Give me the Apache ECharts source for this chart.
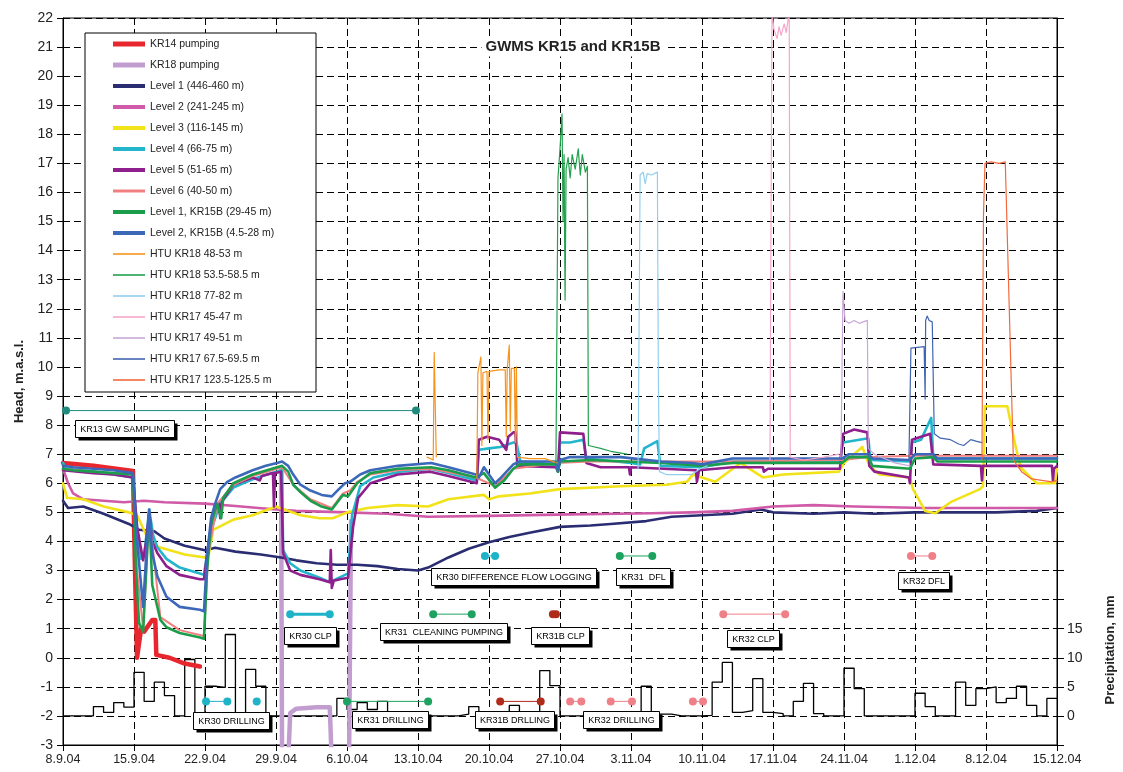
<!DOCTYPE html>
<html><head><meta charset="utf-8">
<script src="https://cdn.jsdelivr.net/npm/echarts@6/dist/echarts.min.js"></script>
<style>html,body{margin:0;padding:0;background:#fff}#c{width:1123px;height:772px}</style>
</head><body><div id="c"></div>
<script>
// ---- x axis: days since 8.9.2004 ----
const xTickLabels = ['8.9.04','15.9.04','22.9.04','29.9.04','6.10.04','13.10.04','20.10.04','27.10.04','3.11.04','10.11.04','17.11.04','24.11.04','1.12.04','8.12.04','15.12.04'];
const precipTickLabels = [0,5,10,15];

// ---- head series [day, m.a.s.l.] ----
const kr14Pumping = [[0,6.7],[3,6.6],[6.9,6.42],[7.1,3.0],[7.3,0.0],[7.7,1.0],[8.0,0.9],[8.8,1.3],[9.1,1.3],[9.2,0.1],[10.5,0.0],[12,-0.2],[13.5,-0.3]];
const kr18Pumping = [[21.5,6.45],[21.6,-3.6],[22.2,-3.6],[22.4,-1.9],[23,-1.75],[25,-1.7],[26.3,-1.7],[26.5,-3.6],[28.2,-3.6],[28.4,4.7]];
const level1 = [[0,5.4],[0.5,5.15],[2,5.2],[4,4.95],[6.5,4.6],[7.5,4.4],[9,4.35],[10,4.1],[12,3.85],[14,3.7],[15,3.78],[17,3.65],[19.5,3.55],[21.5,3.45],[23,3.35],[25,3.25],[27,3.2],[29,3.2],[31,3.15],[33,3.05],[35,3.0],[36,3.1],[38,3.45],[40,3.75],[42,3.97],[44,4.15],[46,4.3],[49,4.5],[52,4.55],[54,4.6],[57.5,4.7],[60,4.85],[63,4.9],[66,4.95],[68.8,5.1],[70,5.0],[74,4.95],[77,5.0],[80,4.95],[84,5.0],[88,5.0],[92,5.0],[96,5.05],[98,5.15]];
const level2 = [[0,6.5],[0.5,6.0],[1,5.65],[2,5.45],[4,5.4],[6,5.35],[8,5.4],[10,5.35],[14,5.3],[17,5.22],[21,5.1],[23,5.05],[28,5.0],[32,4.95],[36,4.85],[42,4.88],[50,4.93],[58,4.97],[62,5.0],[66,5.05],[70,5.2],[74,5.25],[78,5.2],[85,5.15],[92,5.15],[98,5.15]];
const level3 = [[0,6.0],[0.4,5.5],[2,5.45],[4,5.2],[6.5,5.0],[7.3,4.9],[8.5,4.0],[9.5,3.8],[12,3.55],[14,3.45],[14.4,3.6],[14.8,4.4],[16.8,4.75],[18.7,4.9],[21,5.2],[23.4,4.9],[25.3,4.8],[26.6,4.8],[28,5.0],[30,5.15],[33,5.25],[36,5.2],[38,5.45],[41.5,5.6],[42,5.45],[43,5.55],[46,5.65],[49,5.8],[55,5.9],[59.5,5.95],[61.5,6.05],[62.1,6.3],[63,6.2],[64.3,6.05],[66.8,6.7],[69,6.2],[71,6.3],[76.5,6.4],[77,6.7],[78.8,7.25],[79.5,6.6],[80.5,6.3],[83.5,6.2],[83.8,5.8],[85,5.05],[86,4.97],[87.5,5.35],[90.4,5.8],[90.7,5.9],[90.9,8.65],[93.1,8.65],[93.9,7.3],[94.4,6.55],[95.4,6.2],[96,6.0],[97.8,6.0],[98,6.5]];
const level4 = [[0,6.7],[0.3,6.5],[3,6.4],[5,6.3],[6.9,6.2],[7.3,4.5],[7.7,3.4],[8.0,3.5],[8.5,5.1],[8.9,4.2],[9.3,3.8],[10.2,3.4],[11.5,3.1],[13.5,2.9],[13.9,2.85],[14.3,3.8],[14.8,4.6],[15.5,5.3],[16.8,5.85],[18.8,6.15],[20.1,6.3],[21.6,6.45],[21.7,3.7],[22.4,3.25],[23.4,3.0],[25.3,2.75],[26.3,2.6],[26.6,2.65],[27.8,2.85],[28.1,2.9],[28.5,4.9],[29.3,5.9],[30.6,6.2],[33.2,6.4],[36.2,6.5],[38,6.35],[40.8,6.1],[41,7.15],[42,7.2],[43.1,7.25],[44.4,7.4],[44.7,7.4],[45.1,6.75],[48.6,6.65],[48.8,6.4],[49.0,7.4],[50,7.4],[51.3,7.5],[51.6,6.85],[53,6.8],[56,6.7],[56.9,6.65],[57.3,7.2],[58.6,7.45],[58.9,6.6],[63,6.55],[66,6.75],[70,6.75],[76.6,6.75],[76.9,7.4],[79.4,7.55],[79.6,6.8],[83.5,6.75],[83.7,7.4],[84.6,7.5],[85.2,7.95],[85.6,8.25],[85.8,6.85],[98,6.85]];
const level5 = [[0,6.45],[3,6.35],[5,6.3],[6.9,6.2],[7.3,4.5],[7.9,3.35],[8.2,4.0],[8.5,5.0],[8.8,4.0],[9.3,3.6],[10.2,3.15],[11.5,2.85],[13.5,2.7],[13.9,2.7],[14.3,3.8],[14.8,5.0],[15.4,5.3],[15.5,4.8],[15.7,5.4],[16.8,5.95],[18.7,6.2],[19.4,6.1],[19.6,6.25],[20.7,6.35],[20.8,5.2],[20.9,6.35],[21.5,6.4],[21.7,3.6],[22.4,3.0],[23.4,2.85],[25.3,2.7],[26.3,2.6],[26.4,3.7],[26.5,2.4],[26.7,2.65],[27.3,2.7],[28.1,2.75],[28.6,4.5],[29.1,5.5],[30.3,6.0],[33,6.3],[36.2,6.4],[38,6.25],[40.8,6.0],[41,7.5],[41.8,7.6],[43,7.5],[43.7,7.15],[43.9,7.6],[44.4,7.75],[44.6,7.75],[44.8,6.6],[48.6,6.55],[48.8,6.4],[49.0,7.75],[51.3,7.7],[51.6,6.7],[53,6.55],[55.8,6.55],[55.9,6.3],[56.0,6.55],[62.4,6.45],[62.5,6.05],[62.7,6.45],[66,6.55],[69,6.55],[69.1,6.4],[69.5,6.5],[76.6,6.5],[76.9,7.7],[78,7.85],[79.3,7.75],[79.5,6.6],[80,6.4],[83.4,6.2],[83.5,6.0],[83.7,7.5],[85.5,7.7],[85.8,6.65],[90.5,6.6],[90.6,6.1],[90.7,6.6],[97.5,6.6],[97.6,6.1],[97.7,6.5],[98,6.6]];
const level6 = [[0,6.5],[3,6.4],[6.9,6.3],[7.3,3.0],[7.9,1.0],[8.5,4.9],[9.6,1.4],[11.5,0.95],[13.9,0.75],[14.3,3.5],[15.2,5.3],[16.8,5.95],[18.7,6.25],[21.6,6.55],[22.7,5.95],[24.4,5.45],[26.5,5.15],[27.6,5.65],[28.3,5.75],[29,6.05],[30.3,6.3],[33,6.45],[36.3,6.5],[40.7,6.2],[42.6,5.9],[44.4,6.5],[48.6,6.7],[52,6.75],[66,6.75],[76.8,6.8],[79.5,6.9],[84,6.95],[98,6.95]];
const level1B = [[0,6.5],[1,6.45],[3,6.4],[5,6.35],[6.9,6.3],[7.2,3.0],[7.5,1.2],[7.9,0.9],[8.2,3.0],[8.5,5.0],[8.8,2.5],[9.6,1.3],[10.2,1.05],[11.5,0.85],[13.5,0.7],[13.9,0.65],[14.2,3.0],[14.6,4.6],[15.2,5.3],[15.6,4.8],[15.8,5.5],[16.8,6.0],[18.7,6.3],[21.1,6.55],[21.6,6.6],[22.2,6.4],[22.7,5.95],[23.4,5.7],[24.4,5.4],[25.5,5.2],[26.5,5.1],[27.6,5.6],[28.1,5.55],[28.3,5.65],[29,6.0],[30.3,6.35],[33,6.5],[36.3,6.55],[38,6.45],[40.7,6.2],[41.5,6.35],[42.6,5.85],[43.5,6.1],[44.4,6.5],[45,6.65],[48.6,6.65],[48.8,6.4],[49.0,6.75],[52,6.8],[59,6.7],[63,6.6],[66,6.7],[70,6.7],[76.8,6.7],[77.5,6.9],[79.4,6.9],[79.8,6.6],[83.5,6.5],[84,6.85],[85.8,6.9],[86.2,6.75],[98,6.75]];
const level2B = [[0,6.6],[1,6.55],[3,6.5],[5,6.45],[6.9,6.35],[7.3,4.0],[7.9,1.75],[8.2,3.5],[8.5,5.1],[8.8,3.6],[9.3,2.8],[10.2,2.1],[11.5,1.75],[13.5,1.65],[13.9,1.6],[14.2,3.5],[14.6,4.8],[15,5.3],[15.5,5.8],[16.2,6.05],[17,6.2],[18.7,6.45],[20,6.6],[21.1,6.7],[21.6,6.75],[22.2,6.6],[22.7,6.3],[23.4,5.95],[24.4,5.75],[25.5,5.6],[26.5,5.55],[27.2,5.8],[27.8,6.0],[28.3,6.05],[29.3,6.3],[30.3,6.45],[33,6.6],[36.3,6.7],[38,6.55],[40.7,6.3],[41,6.2],[41.5,6.55],[42,6.3],[42.6,6.0],[43.2,6.2],[44.4,6.65],[45,6.75],[48.6,6.75],[48.8,6.45],[49.0,6.8],[50,6.9],[55,6.9],[59,6.75],[62,6.7],[63,6.65],[66,6.85],[70,6.85],[76.8,6.85],[77.5,7.0],[79.4,7.0],[79.8,6.85],[83.5,6.8],[84,7.0],[85.8,7.0],[86.2,6.85],[98,6.85]];
const htuKR18_48 = [[35.9,6.9],[36.5,6.8],[36.6,10.5],[36.8,6.9],[37.0,'-'],[40.8,6.2],[40.9,9.8],[41.2,10.35],[41.3,7.3],[41.4,9.8],[41.8,9.85],[41.9,7.5],[42.0,9.85],[43,9.9],[43.6,9.9],[43.7,7.6],[43.8,9.95],[44.0,10.75],[44.1,7.8],[44.2,9.95],[44.5,9.95],[44.6,7.4],[44.7,10.0],[44.8,6.9],[46,6.85],[47.5,6.85],[48.7,6.7]];
const htuKR18_53 = [[48.6,6.7],[48.8,16.5],[49.0,17.5],[49.2,18.7],[49.3,15.0],[49.4,17.3],[49.5,12.3],[49.6,16.8],[49.8,17.2],[50,16.5],[50.2,17.3],[50.5,16.8],[50.8,17.5],[51,16.6],[51.2,17.3],[51.5,16.7],[51.7,16.9],[51.8,7.3],[53,7.2],[54,7.1],[55.6,7.0]];
const htuKR18_77 = [[56.7,6.5],[56.9,16.6],[57.2,16.7],[57.4,16.3],[57.6,16.65],[58.0,16.6],[58.6,16.7],[58.7,9.5],[58.8,6.4],[59.5,6.3],[62,6.3],[62.8,6.5],[63.5,6.6]];
const htuKR17_45 = [[69.7,6.8],[69.9,22.2],[70.1,21.6],[70.4,21.3],[70.6,21.7],[70.8,21.4],[71.1,21.8],[71.3,21.5],[71.6,22.2],[71.7,6.9],[73,6.8],[75,6.9],[76.5,7.0]];
const htuKR17_49 = [[76.7,6.9],[76.9,12.6],[77.1,11.6],[77.5,11.5],[78,11.6],[78.5,11.5],[79.3,11.6],[79.4,7.2],[80,7.0],[82,6.7],[83.5,6.6]];
const htuKR17_67 = [[83.4,6.8],[83.6,10.65],[84.9,10.7],[85.0,8.9],[85.05,11.6],[85.2,11.75],[85.4,11.6],[85.7,11.55],[85.9,7.7],[86.5,7.55],[87.5,7.5],[88.3,7.35],[88.8,7.3],[89.5,7.5],[90,7.45],[90.6,7.4]];
const htuKR17_123 = [[90.6,6.8],[90.75,15.2],[90.9,17.0],[91.5,17.05],[92.3,17.0],[92.9,17.05],[93.7,6.8],[94.5,6.4],[95.5,6.15],[96.5,6.1],[97.5,6.05],[98,6.1]];

// ---- daily precipitation, mm (day 0 .. 97) ----
const precipDaily = [0,0,0,1.6,0.6,2.3,1.5,7.5,2.5,5.8,3.5,0,9.7,0,5.1,4.9,14.0,0,8.0,5.1,0,0,0,0,0,0,0,3.0,1.1,2.3,1.1,2.5,0,0,0,0,0,0,0,0.3,1.6,0,0,0.6,1.8,0.6,0.6,7.8,5.2,0,0,0,0,0,0,0,0,5.1,0.3,0.3,0,0,0,0.1,5.8,9.2,0.6,0.9,6.4,0.6,0.4,0,2.5,5.6,0.4,0,0,8.2,4.7,0,0,0,0,0,3.9,1.6,0,0,5.8,1.8,4.7,5.0,2.3,3.0,5.1,1.8,0,3.0];

// ---- activity markers [day, head] ----
const mkKR13Sampling = [[0.3,8.5],[34.8,8.5]];
const mkKR30DFL = [[41.6,3.5],[42.6,3.5]];
const mkKR31DFL = [[54.9,3.5],[58.1,3.5]];
const mkKR32DFL = [[83.6,3.5],[85.7,3.5]];
const mkKR30CLP = [[22.4,1.5],[26.3,1.5]];
const mkKR31CLP = [[36.5,1.5],[40.3,1.5]];
const mkKR31BCLP = [[48.3,1.5],[48.6,1.5]];
const mkKR32CLP = [[65.1,1.5],[71.2,1.5]];
const mkKR30Drill = [[14.1,-1.5],[16.2,-1.5],[17.5,'-'],[19.1,-1.5]];
const mkKR31Drill = [[28.0,-1.5],[36.0,-1.5]];
const mkKR31BDrill = [[43.1,-1.5],[47.1,-1.5]];
const mkKR32Drill = [[50.0,-1.5],[51.1,-1.5],[52,'-'],[54.0,-1.5],[56.1,-1.5],[58,'-'],[62.1,-1.5],[63.1,-1.5]];
// labels [day, head, text]
const activityLabels = [
  [6.1,7.87,'KR13 GW SAMPLING'],
  [44.4,2.78,'KR30 DIFFERENCE FLOW LOGGING'],
  [57.2,2.78,'KR31  DFL'],
  [84.8,2.67,'KR32 DFL'],
  [24.4,0.78,'KR30 CLP'],
  [37.5,0.92,'KR31  CLEANING PUMPING'],
  [49.0,0.78,'KR31B CLP'],
  [68.0,0.65,'KR32 CLP'],
  [16.6,-2.17,'KR30 DRILLING'],
  [32.2,-2.14,'KR31 DRILLING'],
  [44.5,-2.14,'KR31B DRLLING'],
  [55.0,-2.14,'KR32 DRILLING']
];

const FONT = 'Arial, "Liberation Sans", sans-serif';
const LABEL_FONT = '9px Arial, "Liberation Sans", sans-serif';
const headSeries = [
  ['KR14 pumping', kr14Pumping, '#e8262d', 4.5, 'pump'],
  ['KR18 pumping', kr18Pumping, '#c29dd0', 4.5, 'pump'],
  ['Level 1 (446-460 m)', level1, '#2b2d72', 2.6, 'thick'],
  ['Level 2 (241-245 m)', level2, '#d05aa8', 2.6, 'thick'],
  ['Level 3 (116-145 m)', level3, '#f2e21a', 2.6, 'thick'],
  ['Level 4 (66-75 m)', level4, '#22b5cc', 2.6, 'thick'],
  ['Level 5 (51-65 m)', level5, '#8e1f8c', 2.6, 'thick'],
  ['Level 6 (40-50 m)', level6, '#f08080', 2.0, 'mid'],
  ['Level 1, KR15B (29-45 m)', level1B, '#1b9e4b', 2.6, 'thick'],
  ['Level 2, KR15B (4.5-28 m)', level2B, '#3b68b8', 2.6, 'thick'],
  ['HTU KR18 48-53 m', htuKR18_48, '#f7941e', 1.2, 'thin'],
  ['HTU KR18 53.5-58.5 m', htuKR18_53, '#23a04e', 1.2, 'thin'],
  ['HTU KR18 77-82 m', htuKR18_77, '#92cfee', 1.2, 'thin'],
  ['HTU KR17 45-47 m', htuKR17_45, '#f5a6c9', 1.2, 'thin'],
  ['HTU KR17 49-51 m', htuKR17_49, '#c8a8d8', 1.2, 'thin'],
  ['HTU KR17 67.5-69.5 m', htuKR17_67, '#4065b0', 1.2, 'thin'],
  ['HTU KR17 123.5-125.5 m', htuKR17_123, '#f26a3c', 1.2, 'thin']
];
const icons = {
  pump: 'path://M0,0h32v5h-32z',
  thick: 'path://M0,0h32v4h-32z',
  mid: 'path://M0,0h32v3h-32z',
  thin: 'path://M0,0h32v1.6h-32z'
};

const markerSeries = [
  [mkKR13Sampling,'#1e8b7d',1],[mkKR30DFL,'#1fb3c8',1],[mkKR31DFL,'#1ea260',1],[mkKR32DFL,'#f08088',1],
  [mkKR30CLP,'#1fb3c8',3],[mkKR31CLP,'#1ea260',1],[mkKR31BCLP,'#b02a1a',1],[mkKR32CLP,'#f08088',1],
  [mkKR30Drill,'#1fb3c8',1],[mkKR31Drill,'#1ea260',1],[mkKR31BDrill,'#b02a1a',1],[mkKR32Drill,'#f08088',1]
];

const measureCtx = document.createElement('canvas').getContext('2d');
measureCtx.font = LABEL_FONT;

const series = [];
// precipitation (step line on right axis)
const precipData = precipDaily.map((v,i)=>[i,v]);
precipData.push([precipDaily.length, precipDaily[precipDaily.length-1]]);
series.push({type:'line', name:'Precipitation', yAxisIndex:1, step:'end', data:precipData,
  showSymbol:false, symbol:'none', lineStyle:{color:'#000', width:1.3}, itemStyle:{color:'#000'}, z:2});

headSeries.forEach(([name,data,color,w])=>{
  series.push({type:'line', name, data, showSymbol:false, symbol:'none', connectNulls:false,
    lineStyle:{color, width:w, cap:'round', join:'round'}, itemStyle:{color}, z:3});
});
markerSeries.forEach(([data,color,w])=>{
  series.push({type:'line', data, symbol:'circle', symbolSize:8, showSymbol:true, showAllSymbol:true,
    connectNulls:false, lineStyle:{color, width:w}, itemStyle:{color}, z:4});
});
// activity label boxes with drop shadow
series.push({type:'custom', z:6, silent:true,
  data: activityLabels.map(l=>[l[0],l[1]]),
  renderItem:(params, api)=>{
    const p = api.coord([api.value(0), api.value(1)]);
    const text = activityLabels[params.dataIndex][2];
    const w = Math.round(measureCtx.measureText(text).width) + 9;
    const h = 17;
    const x0 = Math.round(p[0] - w/2) + 0.5, y0 = Math.round(p[1] - h/2) + 0.5;
    return {type:'group', children:[
      {type:'rect', shape:{x:x0+3, y:y0+3, width:w, height:h}, style:{fill:'#000'}},
      {type:'rect', shape:{x:x0, y:y0, width:w, height:h}, style:{fill:'#fff', stroke:'#000', lineWidth:1}},
      {type:'text', x:x0 + w/2, y:y0 + h/2 + 0.5, style:{text, font:LABEL_FONT, fill:'#000', align:'center', verticalAlign:'middle'}}
    ]};
  }});

const chart = echarts.init(document.getElementById('c'), null, {renderer:'canvas'});
chart.setOption({
  animation:false,
  backgroundColor:'#fff',
  grid:{left:63, right:66, top:18, bottom:27, show:true, borderColor:'#000', borderWidth:1, backgroundColor:'transparent'},
  xAxis:{type:'value', min:0, max:98, interval:7,
    axisLine:{show:true, onZero:false, lineStyle:{color:'#000', width:1}},
    axisTick:{show:true, length:6, lineStyle:{color:'#000'}},
    axisLabel:{fontFamily:FONT, fontSize:12.5, color:'#222', margin:8,
      formatter:v=>xTickLabels[Math.round(v/7)] || ''},
    splitLine:{show:true, lineStyle:{color:'#000', width:1, type:[7,4]}}},
  yAxis:[
    {type:'value', min:-3, max:22, interval:1, position:'left',
      name:'Head, m.a.s.l.', nameLocation:'middle', nameGap:37,
      nameTextStyle:{fontFamily:FONT, fontSize:13, fontWeight:'bold', color:'#222'},
      axisLine:{show:true, onZero:false, lineStyle:{color:'#000'}},
      axisTick:{show:true, length:6, lineStyle:{color:'#000'}},
      axisLabel:{fontFamily:FONT, fontSize:14, color:'#222', margin:10},
      splitLine:{show:true, lineStyle:{color:'#000', width:1, type:[7,4]}}},
    {type:'value', min:-5, max:120, interval:5, position:'right',
      axisLine:{show:true, onZero:false, lineStyle:{color:'#000'}},
      axisTick:{show:true, length:7, lineStyle:{color:'#000'}},
      axisLabel:{fontFamily:FONT, fontSize:14, color:'#222', margin:10,
        formatter:v=>precipTickLabels.indexOf(v)>=0 ? String(v) : ''},
      splitLine:{show:false}}
  ],
  legend:{orient:'vertical', left:113, top:38, padding:0, itemWidth:32, itemHeight:12, itemGap:9,
    selectedMode:false, z:10, itemStyle:{borderWidth:0},
    textStyle:{fontFamily:FONT, fontSize:10.5, lineHeight:12, color:'#222'},
    data: headSeries.map(s=>({name:s[0], icon:icons[s[4]]}))},
  graphic:[
    {type:'rect', z:8, shape:{x:85, y:33, width:231, height:359},
      style:{fill:'#fff', stroke:'#000', lineWidth:1}},
    {type:'text', z:8, x:573, y:47, style:{text:'GWMS KR15 and KR15B', fontFamily:FONT, fontSize:15, fontWeight:'bold',
      fill:'#222', align:'center', verticalAlign:'middle', backgroundColor:'#fff', padding:[2,4]}},
    {type:'text', z:8, x:1110, y:650, rotation:Math.PI/2, style:{text:'Precipitation, mm', fontFamily:FONT, fontSize:13,
      fontWeight:'bold', fill:'#222', align:'center', verticalAlign:'middle'}}
  ],
  series
});
</script></body></html>
